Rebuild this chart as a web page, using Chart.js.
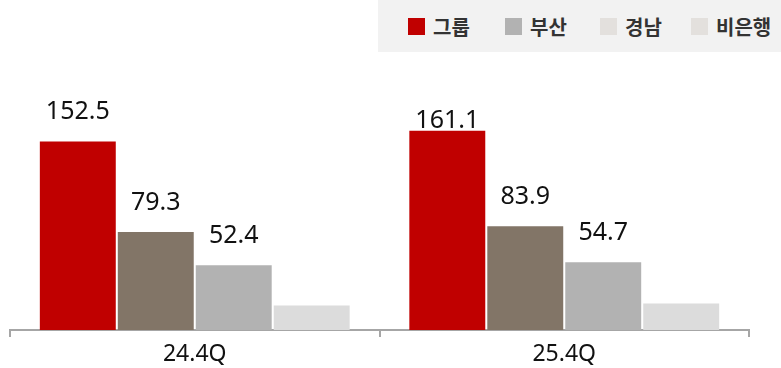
<!DOCTYPE html>
<html lang="ko">
<head>
<meta charset="utf-8">
<script src="https://cdn.jsdelivr.net/npm/chart.js@4"></script>
<style>
  html, body { margin: 0; padding: 0; background: #fff; }
  #wrap { position: relative; width: 781px; height: 368px; }
  #legend { position: absolute; left: 378px; top: 0; width: 403px; height: 52px; background: #F2F2F2; }
  .item { position: absolute; top: 0; height: 52px; display: flex; align-items: center;
          font: bold 20px "Noto Sans CJK KR", sans-serif; color: #333; white-space: nowrap; }
  .item i { display: inline-block; width: 17px; height: 17px; margin-right: 8px; }
</style>
</head>
<body>
<div id="wrap">
  <canvas id="chart" width="781" height="368"></canvas>
  <div id="legend"></div>
</div>
<script>
// ===== DATA =====
const quarters = ['24.4Q', '25.4Q'];
const seriesNames = ['그룹', '부산', '경남', '비은행'];
const groupVals = [152.5, 161.1];
const busanVals = [79.3, 83.9];
const gyeongnamVals = [52.4, 54.7];
const nonBankVals = [19.8, 21.4];

// ===== STYLE =====
const barColors = ['#C00000', '#827567', '#B2B2B2', '#DCDCDC'];
const legendColors = ['#C00000', '#B2B2B2', '#E3E0DD', '#E3E0DD'];
const legendX = [30, 127, 222, 313];
// gap between value text baseline and bar top, per series / per quarter
const labelGap = [[22, 3], [22, 22], [22, 22]];

// ===== LEGEND =====
const legendDiv = document.getElementById('legend');
seriesNames.forEach((name, i) => {
    const item = document.createElement('div');
    item.className = 'item';
    item.style.left = legendX[i] + 'px';
    item.innerHTML = `<i style="background:${legendColors[i]}"></i>${name}`;
    legendDiv.appendChild(item);
});

// ===== VALUE LABELS =====
const valueLabels = {
    id: 'valueLabels',
    afterDatasetsDraw(chart) {
        const ctx = chart.ctx;
        ctx.save();
        ctx.font = '25px "Noto Sans", sans-serif';
        ctx.fillStyle = '#111';
        ctx.textAlign = 'center';
        ctx.textBaseline = 'alphabetic';
        chart.data.datasets.forEach((ds, di) => {
            if (!labelGap[di]) return;
            chart.getDatasetMeta(di).data.forEach((bar, i) => {
                ctx.fillText(ds.data[i].toFixed(1), bar.x, bar.y - labelGap[di][i]);
            });
        });
        ctx.restore();
    }
};

// ===== CHART =====
const seriesVals = [groupVals, busanVals, gyeongnamVals, nonBankVals];

new Chart(document.getElementById('chart'), {
    type: 'bar',
    data: {
        labels: quarters,
        datasets: seriesNames.map((name, i) => ({
            label: name,
            data: seriesVals[i],
            backgroundColor: barColors[i],
            borderWidth: 0,
            categoryPercentage: 0.844,
            barPercentage: 0.974
        }))
    },
    options: {
        responsive: false,
        animation: false,
        layout: { padding: { left: 10, right: 32, top: 58, bottom: 0 } },
        plugins: {
            legend: { display: false },
            tooltip: { enabled: false }
        },
        scales: {
            x: {
                grid: {
                    offset: true,
                    drawOnChartArea: false,
                    color: '#A6A6A6',
                    lineWidth: 2,
                    tickLength: 7
                },
                border: { color: '#A6A6A6', width: 2 },
                ticks: {
                    color: '#111',
                    font: { family: '"Noto Sans", sans-serif', size: 23 },
                    padding: 4
                },
                afterFit: scale => { scale.height = 38; }
            },
            y: { display: false, min: 0, max: 220 }
        }
    },
    plugins: [valueLabels]
});
</script>
</body>
</html>
